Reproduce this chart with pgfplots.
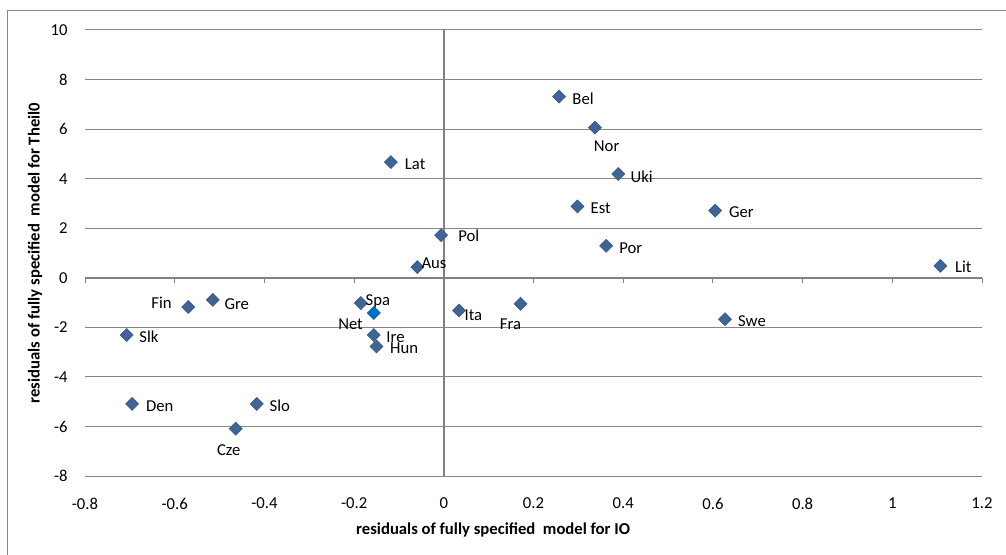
\documentclass[border=0pt]{standalone}
\usepackage{pgfplots}
\pgfplotsset{compat=1.18}
\usepackage{fontspec}
\setmainfont{Carlito}
\definecolor{mk}{RGB}{62,100,152}
\definecolor{mknet}{RGB}{0,112,192}
\definecolor{gridc}{RGB}{134,134,134}
\definecolor{axc}{RGB}{128,128,128}
\newcommand{\chartfont}{\fontsize{12.5}{15}\selectfont}

\pgfplotsset{
  pts/.style={only marks, mark=square*, mark size=3.45pt,
    mark options={rotate=45, fill=#1, draw=#1!85!black, line width=0.4pt}},
  lbl/.style n args={3}{nodes near coords={#1},
    nodes near coords style={font=\chartfont, text=black, anchor=base, inner sep=0pt,
      xshift={(#2)*0.75pt}, yshift={-(#3+5.4)*0.75pt}}},
}

\begin{document}
\begin{tikzpicture}
\path[use as bounding box] (0pt,0pt) rectangle (754.5pt,-416.25pt);
\draw[gridc, line width=0.75pt] (5.25pt,-416.25pt) -- (5.25pt,-8.25pt) -- (754.5pt,-8.25pt);
\begin{axis}[
  at={(63.75pt,-357pt)}, anchor=south west,
  scale only axis, width=672.75pt, height=334.5pt,
  xmin=-0.8, xmax=1.2, ymin=-8, ymax=10,
  xtick={-0.8,-0.6,-0.4,-0.2,0,0.2,0.4,0.6,0.8,1,1.2},
  ytick={-8,-6,-4,-2,0,2,4,6,8,10},
  axis line style={draw=none},
  major tick length=0pt,
  ymajorgrids,
  grid style={gridc, line width=0.75pt},
  /pgf/number format/assume math mode=true,
  tick label style={font=\chartfont, text=black},
  xticklabel style={yshift=-13pt},
  yticklabel style={xshift=-9.5pt},
  xlabel={residuals of fully specified\ \ model for IO},
  ylabel={residuals of fully specified\ \ model for Theil0},
  xlabel style={font=\bfseries\chartfont, at={(rel axis cs:0.455,-0.121)}, anchor=center},
  ylabel style={font=\bfseries\chartfont, at={(rel axis cs:-0.0557,0.5)}, anchor=center},
  clip=false,
]
\draw[axc, line width=1.4pt] (axis cs:0,-8) -- (axis cs:0,10);
\draw[axc, line width=1.4pt] (axis cs:-0.8,0) -- (axis cs:1.2,0);
\pgfplotsinvokeforeach{-0.8,-0.6,-0.4,-0.2,0,0.2,0.4,0.6,0.8,1,1.2}{
  \draw[axc, line width=0.75pt] (axis cs:#1,0) -- ++(0pt,-3.75pt);
}
\addplot[pts=mk, lbl={Bel}{24}{2}] coordinates {(0.257,7.31)};
\addplot[pts=mk, lbl={Nor}{11.7}{18.3}] coordinates {(0.337,6.06)};
\addplot[pts=mk, lbl={Lat}{24.3}{2}] coordinates {(-0.118,4.67)};
\addplot[pts=mk, lbl={Uki}{23.4}{2.7}] coordinates {(0.389,4.19)};
\addplot[pts=mk, lbl={Est}{23.3}{1.6}] coordinates {(0.298,2.88)};
\addplot[pts=mk, lbl={Pol}{27.7}{1.4}] coordinates {(-0.006,1.72)};
\addplot[pts=mk, lbl={Por}{24.7}{2.3}] coordinates {(0.362,1.29)};
\addplot[pts=mk, lbl={Aus}{16.7}{-4}] coordinates {(-0.059,0.43)};
\addplot[pts=mk, lbl={Ger}{26.3}{1.6}] coordinates {(0.605,2.71)};
\addplot[pts=mk, lbl={Lit}{23}{1.3}] coordinates {(1.107,0.48)};
\addplot[pts=mk, lbl={Swe}{27}{1.7}] coordinates {(0.627,-1.67)};
\addplot[pts=mk, lbl={Fin}{-26.6}{-4}] coordinates {(-0.570,-1.18)};
\addplot[pts=mk, lbl={Gre}{24}{4}] coordinates {(-0.515,-0.89)};
\addplot[pts=mk, lbl={Slk}{22.3}{2}] coordinates {(-0.707,-2.31)};
\addplot[pts=mk, lbl={Spa}{17}{-2.6}] coordinates {(-0.185,-1.02)};
\addplot[pts=mk, lbl={Ire}{21.7}{2}] coordinates {(-0.156,-2.31)};
\addplot[pts=mk, lbl={Hun}{27.6}{2}] coordinates {(-0.150,-2.77)};
\addplot[pts=mk, lbl={Den}{27.7}{2.4}] coordinates {(-0.695,-5.09)};
\addplot[pts=mk, lbl={Slo}{23}{2.4}] coordinates {(-0.417,-5.09)};
\addplot[pts=mk, lbl={Cze}{-7}{21}] coordinates {(-0.464,-6.09)};
\addplot[pts=mk, lbl={Ita}{14.3}{4.3}] coordinates {(0.034,-1.32)};
\addplot[pts=mk, lbl={Fra}{-10}{20.3}] coordinates {(0.171,-1.05)};
\addplot[pts=mknet, lbl={Net}{-23.3}{10.7}] coordinates {(-0.156,-1.42)};
\end{axis}
\end{tikzpicture}
\end{document}
